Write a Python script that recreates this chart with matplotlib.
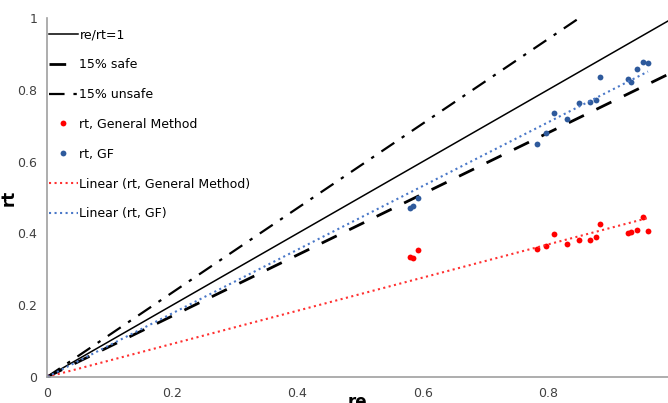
import numpy as np
import matplotlib
matplotlib.use('Agg')
import matplotlib.pyplot as plt

# re values shared by both series (0 included as first point)
re_vals = [0.0, 0.580, 0.585, 0.593, 0.783, 0.797, 0.810, 0.831, 0.850,
           0.867, 0.877, 0.883, 0.928, 0.933, 0.942, 0.952, 0.960]
rt_general = [0.0, 0.334, 0.331, 0.354, 0.357, 0.365, 0.398, 0.370, 0.383,
              0.381, 0.390, 0.426, 0.402, 0.403, 0.409, 0.445, 0.408]
rt_gf = [0.0, 0.471, 0.476, 0.498, 0.649, 0.680, 0.735, 0.719, 0.763,
         0.766, 0.772, 0.836, 0.830, 0.822, 0.858, 0.877, 0.875]

ref_x = [0.0, 1.0]
safe_factor = 0.85


def slope_through_origin(x, y):
    x = np.asarray(x)
    y = np.asarray(y)
    return (x * y).sum() / (x * x).sum()


fig = plt.figure(figsize=(6.68, 4.03), dpi=100)
ax = fig.add_axes([0.0704, 0.0645, 0.9296, 0.8905])

ax.plot(ref_x, ref_x, color='black', lw=1.1, label='re/rt=1')
ax.plot(ref_x, [v * safe_factor for v in ref_x], color='black', lw=2,
        dashes=(6, 5), label='15% safe')
ax.plot(ref_x, [v / safe_factor for v in ref_x], color='black', lw=1.6,
        dashes=(7, 4, 1.5, 4), label='15% unsafe')

ax.plot(re_vals, rt_general, 'o', color='#ff0000', ms=4.2, mec='none',
        label='rt, General Method')
ax.plot(re_vals, rt_gf, 'o', color='#2e5a9c', ms=4.2, mec='none',
        label='rt, GF')

xs = np.array([0, max(re_vals)])
ax.plot(xs, slope_through_origin(re_vals, rt_general) * xs, ':',
        color='#ff3030', lw=1.5, label='Linear (rt, General Method)')
ax.plot(xs, slope_through_origin(re_vals, rt_gf) * xs, ':',
        color='#4a78c8', lw=1.5, label='Linear (rt, GF)')

ax.set_xlim(0, 0.992)
ax.set_ylim(0, 1)
ax.set_xticks([0, 0.2, 0.4, 0.6, 0.8])
ax.set_xticklabels(['0', '0.2', '0.4', '0.6', '0.8'])
ax.set_yticks([0, 0.2, 0.4, 0.6, 0.8, 1])
ax.set_yticklabels(['0', '0.2', '0.4', '0.6', '0.8', '1'])
ax.tick_params(length=0, labelsize=9, colors='#404040', pad=7)
for s in ['top', 'right']:
    ax.spines[s].set_visible(False)
for s in ['left', 'bottom']:
    ax.spines[s].set_color('#a0a0a0')
    ax.spines[s].set_linewidth(1.2)

# labels sit where the reference puts them (x label partly below the edge)
ax.set_xlabel('re', fontsize=12, fontweight='bold')
ax.xaxis.set_label_coords(0.5, -0.045)
ax.set_ylabel('rt', fontsize=12, fontweight='bold')
ax.yaxis.set_label_coords(-0.048, 0.5)

ax.legend(loc='upper left', bbox_to_anchor=(0.073, 0.93),
          bbox_transform=fig.transFigure, frameon=False, fontsize=9,
          handlelength=2.3, handletextpad=0.15, labelspacing=1.35,
          borderaxespad=0, borderpad=0)

fig.savefig('out.png', dpi=100)
